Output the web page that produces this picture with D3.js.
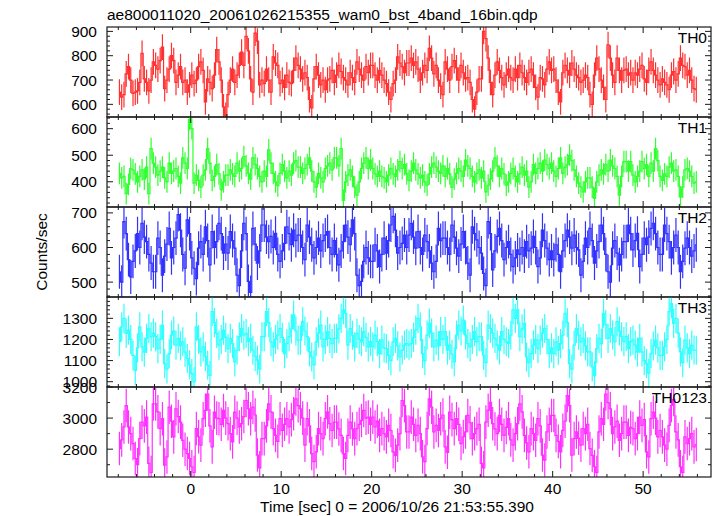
<!DOCTYPE html>
<html><head><meta charset="utf-8">
<script src="https://cdn.jsdelivr.net/npm/d3@7"></script>
<style>body{margin:0;background:#fff}svg{display:block}text{font-family:"Liberation Sans",Arial,Helvetica,sans-serif;fill:#000}</style>
</head><body><svg id="c" width="717" height="516"></svg>
<script>
const title = "ae800011020_20061026215355_wam0_bst_4band_16bin.qdp";
const xLabel = "Time [sec] 0 = 2006/10/26 21:53:55.390";
const yLabel = "Counts/sec";
const bandNames = ["TH0", "TH1", "TH2", "TH3", "TH0123"];
const bandColors = ["#ff3030", "#30ff30", "#3030ff", "#30ffff", "#ff30ff"];
const tStart = -8, binWidth = 0.25;
const xTicks = [0, 10, 20, 30, 40, 50];
const yDomains = [[548, 918], [305, 644], [457, 717], [975, 1401], [2621, 3200]];
const yMajorTicks = [[600, 700, 800, 900], [400, 500, 600], [500, 600, 700], [1000, 1100, 1200, 1300], [2800, 3000, 3200]];
const yMinorStep = [20, 20, 20, 20, 100];
const bandErrors = [53, 41, 49, 69, 108];

const th0 = [
650,630,640,725,755,700,645,650,655,690,810,705,690,655,700,775,
760,745,780,835,665,700,745,800,780,690,720,755,690,700,650,680,
720,685,700,755,775,740,610,705,690,665,720,825,775,700,590,555,
640,700,745,690,720,760,815,760,880,820,705,650,893,860,680,700,
685,745,700,650,795,770,760,685,700,670,720,690,685,740,790,760,
745,705,730,710,620,585,705,755,720,680,700,660,700,705,740,690,
720,760,735,710,700,680,730,710,690,775,745,720,700,755,730,760,
760,720,700,740,720,700,685,650,620,685,700,795,770,755,730,770,
770,790,760,775,745,700,730,760,740,830,790,725,760,700,675,640,
775,745,700,755,780,750,700,760,730,705,710,690,620,580,650,705,
705,900,870,790,690,640,720,775,740,710,680,720,745,710,700,745,
710,760,730,710,690,730,745,720,670,630,710,705,680,745,775,740,
745,700,650,610,730,760,740,720,770,745,720,710,690,700,720,710,
640,600,720,790,745,700,670,620,845,790,720,690,790,740,700,740,
745,720,730,700,730,720,745,760,705,690,740,775,740,720,700,680,
705,690,680,660,720,735,700,725,790,760,755,720,740,700,665,660];

const th1 = [
432,415,420,355,390,450,445,430,400,420,445,410,455,355,525,470,
455,425,440,455,415,400,470,432,440,450,420,395,490,470,450,635,
600,395,425,405,380,425,445,525,470,405,420,465,430,370,400,425,
425,445,430,420,470,440,450,495,460,432,410,490,465,450,420,400,
440,420,520,470,432,400,385,432,465,440,415,440,425,470,480,455,
455,432,450,465,490,440,400,380,432,415,400,450,460,470,445,490,
490,460,525,330,400,425,445,420,380,350,400,450,470,490,450,482,
450,430,420,440,420,415,400,425,450,430,420,445,476,450,465,430,
405,440,470,445,430,415,425,400,387,430,455,470,455,440,432,460,
420,450,430,380,410,432,450,440,420,482,460,450,420,400,432,445,
415,440,362,387,410,440,490,460,420,450,430,387,400,432,450,420,
400,430,455,425,440,380,400,465,432,450,470,440,482,465,450,470,
440,420,450,490,432,455,465,500,480,445,420,395,380,362,400,415,
415,380,337,400,425,445,430,465,440,482,460,450,420,350,420,476,
476,440,476,425,400,420,440,476,450,465,420,470,440,525,480,420,
405,430,420,455,470,440,445,420,343,380,445,450,440,420,395,400];

const th2 = [
530,500,675,640,565,515,560,590,640,600,670,630,617,580,555,530,
530,627,600,520,575,610,655,570,600,627,695,650,580,540,680,640,
570,540,510,598,617,580,660,620,550,646,600,617,670,640,584,610,
584,646,620,598,520,490,590,670,640,502,470,655,610,555,590,665,
665,630,617,632,600,641,580,560,590,612,660,640,608,650,620,636,
636,600,565,665,630,608,570,600,627,590,620,636,646,600,580,620,
580,550,590,617,665,630,608,680,640,520,490,502,560,600,570,560,
560,608,590,545,580,627,584,620,665,690,650,584,600,612,636,600,
636,670,630,598,646,600,580,636,617,590,555,530,560,655,620,627,
627,600,580,665,630,598,575,610,646,600,555,520,660,640,622,600,
584,525,490,675,640,535,590,632,655,620,565,600,617,580,545,570,
593,580,600,575,617,590,598,632,600,545,570,650,620,598,565,590,
565,608,580,530,590,620,650,630,598,636,600,593,520,560,627,600,
655,620,555,590,617,665,640,580,530,500,598,620,584,550,580,617,
617,665,640,593,620,641,545,580,627,608,630,655,670,640,600,580,
580,665,640,617,570,600,636,600,530,560,598,627,600,575,590,608];

const th3 = [
1189,1260,1300,1229,1244,1200,1125,1054,1160,1260,1165,1140,1205,1252,1213,1230,
1213,1157,1200,1268,1086,1060,1133,1221,1240,1173,1205,1170,1189,1140,1110,1080,
1038,1000,1260,1200,1141,1165,1120,1078,1030,1332,1280,1229,1173,1200,1244,1210,
1157,1205,1180,1094,1150,1213,1252,1220,1229,1190,1205,1149,1120,1102,1060,1213,
1213,1332,1280,1189,1165,1200,1221,1252,1210,1133,1180,1213,1250,1316,1240,1197,
1197,1284,1240,1213,1141,1117,1080,1189,1230,1268,1165,1200,1237,1205,1180,1205,
1205,1250,1300,1340,1324,1173,1252,1220,1165,1229,1200,1189,1237,1210,1165,1190,
1165,1221,1190,1133,1197,1160,1157,1125,1100,1189,1205,1170,1117,1150,1173,1181,
1173,1181,1210,1244,1300,1260,1133,1100,1221,1276,1230,1165,1197,1170,1237,1200,
1237,1149,1173,1130,1094,1221,1268,1240,1292,1221,1180,1165,1200,1237,1190,1213,
1213,1125,1090,1268,1252,1230,1205,1173,1150,1237,1200,1189,1181,1220,1340,1300,
1340,1213,1250,1276,1117,1090,1133,1173,1200,1157,1197,1230,1252,1200,1133,1160,
1133,1189,1149,1180,1221,1324,1280,1086,1060,1173,1252,1220,1189,1205,1170,1141,
1141,1070,1030,1157,1205,1180,1324,1270,1205,1252,1221,1190,1284,1240,1213,1190,
1213,1157,1190,1197,1173,1140,1205,1141,1100,1086,1040,1133,1170,1197,1160,1125,
1125,1165,1200,1332,1370,1276,1300,1230,1141,1090,1197,1160,1133,1173,1150,1149];

const th0123 = [
2804,2860,2943,3081,2943,2900,2836,2740,2700,2868,2974,2950,3006,2709,2650,3091,
3091,3040,2932,2996,2698,2750,3070,2980,2879,3060,3010,2974,2857,2800,2772,2740,
2687,2650,2932,2880,2826,2996,3050,3155,2950,2815,3038,3000,2996,2960,3049,3000,
2964,2900,2847,3038,3000,2943,2964,3010,3113,3060,2996,3070,3020,2762,2680,2868,
2868,2950,3091,3040,2932,2889,2850,2996,2921,2960,2996,2943,2990,3028,3123,3080,
3060,3000,2826,2996,2950,2772,2720,2783,2932,2900,2868,2996,3040,2964,2920,2974,
2974,2930,2889,2772,2740,2889,2974,2930,2868,2932,2960,2985,3049,3000,3006,2960,
3006,2943,2980,2889,2932,2900,2879,2953,2920,2783,2760,2826,2900,3113,3080,2911,
2911,3006,2960,2889,2953,2900,2751,2720,2932,3123,3070,2911,2953,2920,2996,3020,
2815,2780,3038,2990,2932,2996,2960,2836,2880,2911,3017,2970,2868,2900,2932,2960,
2709,2680,2974,3050,3102,2964,2930,2900,3017,2960,2889,2940,2996,2860,2826,2900,
2964,3091,3040,2889,2840,2783,2932,2900,2857,2996,2950,2762,2730,2911,2960,3017,
3017,2889,2850,2783,2921,2980,3145,3080,2762,2868,2911,2870,2826,2932,2900,2960,
2804,2760,2687,2650,2911,2996,2960,3155,3100,3060,2900,2943,2980,2857,2900,2974,
2974,2889,2940,2932,2868,2900,3006,2953,2990,2783,2750,2996,3038,3000,2879,2920,
2879,2826,2800,2953,3081,3120,2911,2860,2687,2650,2879,2836,2868,2900,2815,2830];

const series = [th0, th1, th2, th3, th0123];

const svg = d3.select("#c");
const L = 107, R = 711, top0 = 27, PH = 90;
const x = d3.scaleLinear().domain([-9.25, 57.5]).range([L, R]);
const xMinor = d3.range(-8, 57, 2);
const ink = "#1a1a1a";

svg.append("text").attr("x", L).attr("y", 20).attr("font-size", 15.5).text(title);

series.forEach((vals, p) => {
  const top = top0 + p * PH, bot = top + PH;
  const y = d3.scaleLinear().domain(yDomains[p]).range([bot, top]);
  const g = svg.append("g");
  const cid = "clip" + p;
  svg.append("clipPath").attr("id", cid).append("rect")
    .attr("x", L).attr("y", top).attr("width", R - L).attr("height", PH);
  const err = bandErrors[p];
  const bars = d3.path();
  vals.forEach((v, i) => {
    const t = tStart + binWidth * (i + 0.5);
    bars.moveTo(x(t), y(v - err)); bars.lineTo(x(t), y(v + err));
  });
  g.append("path").attr("d", bars.toString()).attr("clip-path", `url(#${cid})`)
    .attr("fill", "none").attr("stroke", bandColors[p]).attr("stroke-width", 1.2);
  const step = d3.line().curve(d3.curveStep)
    .x((v, i) => x(tStart + binWidth * (i + 0.5))).y(v => y(v));
  g.append("path").attr("d", step(vals)).attr("clip-path", `url(#${cid})`)
    .attr("fill", "none").attr("stroke", bandColors[p]).attr("stroke-width", 1.2);

  // frame
  g.append("rect").attr("x", L).attr("y", top).attr("width", R - L).attr("height", PH)
    .attr("fill", "none").attr("stroke", ink).attr("stroke-width", 1.2);

  const tk = svg.append("g").attr("stroke", ink).attr("stroke-width", 1);
  xMinor.forEach(t => {
    const len = (t % 10 === 0) ? 6 : 3;
    tk.append("line").attr("x1", x(t)).attr("x2", x(t)).attr("y1", bot).attr("y2", bot - len);
    tk.append("line").attr("x1", x(t)).attr("x2", x(t)).attr("y1", top).attr("y2", top + len);
  });
  const [d0, d1] = yDomains[p];
  const st = yMinorStep[p];
  d3.range(Math.ceil(d0 / st) * st, d1 + 0.001, st).forEach(v => {
    const len = yMajorTicks[p].includes(v) ? 6 : 3;
    tk.append("line").attr("x1", L).attr("x2", L + len).attr("y1", y(v)).attr("y2", y(v));
    tk.append("line").attr("x1", R).attr("x2", R - len).attr("y1", y(v)).attr("y2", y(v));
  });
  yMajorTicks[p].forEach(v => {
    svg.append("text").attr("x", 97).attr("y", y(v) + 5.5).attr("text-anchor", "end")
      .attr("font-size", 15.5).text(v);
  });
  svg.append("text").attr("x", 707).attr("y", top + 16).attr("text-anchor", "end")
    .attr("font-size", 15.5).text(bandNames[p]);
});

const bottom = top0 + 5 * PH;
xTicks.forEach(t => {
  svg.append("text").attr("x", x(t)).attr("y", bottom + 16.5).attr("text-anchor", "middle")
    .attr("font-size", 15.5).text(t);
});
svg.append("text").attr("x", 397).attr("y", 511.5).attr("text-anchor", "middle")
  .attr("font-size", 15.5).text(xLabel);
svg.append("text").attr("transform", `translate(47,${top0 + 2.5 * PH}) rotate(-90)`)
  .attr("text-anchor", "middle").attr("font-size", 15.5).text(yLabel);
</script></body></html>
